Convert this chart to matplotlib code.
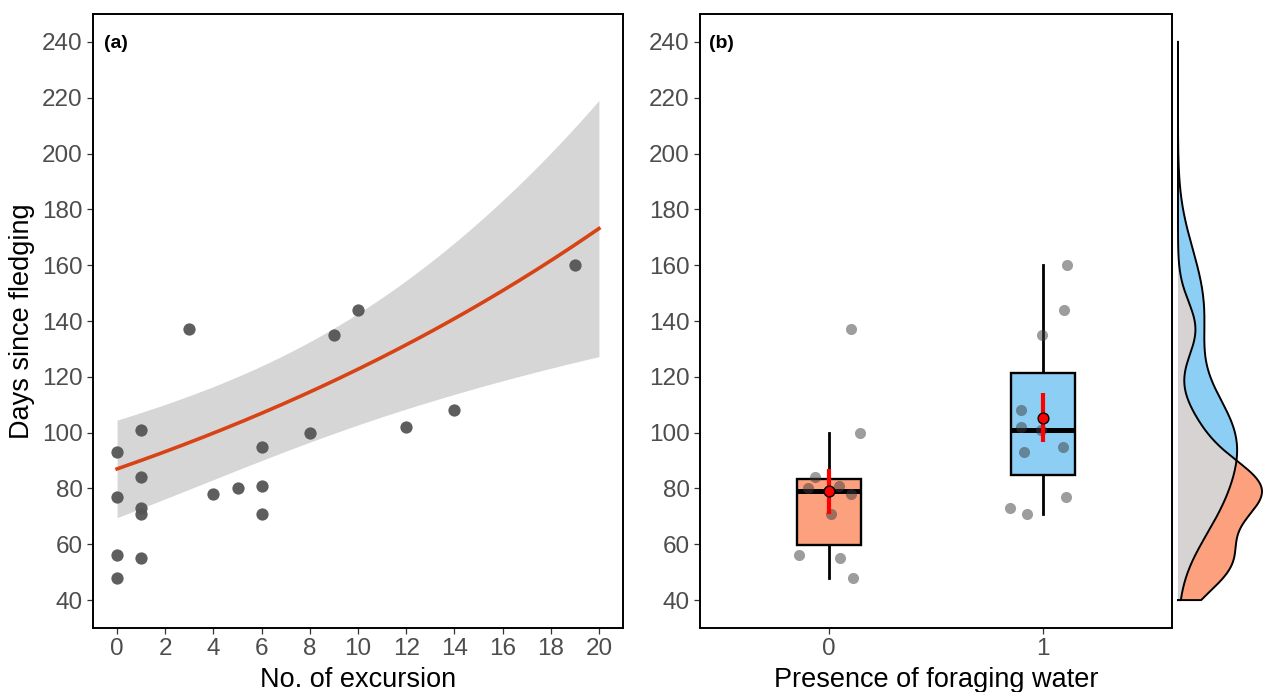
import numpy as np
import matplotlib
matplotlib.use("Agg")
import matplotlib.pyplot as plt

plt.rcParams["font.family"] = ["Liberation Sans", "DejaVu Sans"]

# panel (a): excursions vs days since fledging
excursions = [0, 0, 0, 0, 1, 1, 1, 1, 1, 3, 4, 5, 6, 6, 6, 8, 9, 10, 12, 14, 19]
days_a = [93, 77, 56, 48, 101, 84, 73, 71, 55, 137, 78, 80, 95, 81, 71, 100, 135, 144, 102, 108, 160]

# fitted log-link model (coef + vcov on link scale)
fit_coef = [4.466, 0.0344]
fit_vcov = [[0.0105, -0.000555], [-0.000555, 0.000075]]

# panel (b): days by presence of foraging water
days_water0 = [137, 100, 84, 80, 81, 78, 71, 56, 55, 48]
days_water1 = [160, 144, 135, 108, 102, 101, 93, 95, 77, 73, 71]
jitter_water0 = [0.106, 0.148, -0.065, -0.097, 0.046, 0.102, 0.009, -0.139, 0.051, 0.111]
jitter_water1 = [0.111, 0.097, -0.005, -0.102, -0.102, -0.009, -0.088, 0.093, 0.106, -0.157, -0.074]
groups = ["0", "1"]

col_fill = ["#FDA07E", "#8DCEF4"]
col_overlap = "#D8D3D3"
tick_col = "#4D4D4D"

fig = plt.figure(figsize=(12.64, 6.92), dpi=100)
W, H = 1264, 692
bot, top = 1 - 628 / H, 1 - 14 / H
ax_a = fig.add_axes([93 / W, bot, (623 - 93) / W, top - bot])
ax_b = fig.add_axes([700 / W, bot, (1172 - 700) / W, top - bot])
ax_d = fig.add_axes([1172 / W, bot, (W - 1172) / W, top - bot])

# ---- panel a
xs = np.linspace(0, 20, 200)
X = np.column_stack([np.ones_like(xs), xs])
eta = X @ np.array(fit_coef)
se_eta = np.sqrt(np.einsum("ij,jk,ik->i", X, np.array(fit_vcov), X))
mu = np.exp(eta)
half = 1.96 * mu * se_eta
ax_a.fill_between(xs, mu - half, mu + half, color="#D6D6D6", lw=0, zorder=1)
ax_a.plot(xs, mu, color="#D84315", lw=2.6, zorder=2)
ax_a.scatter(excursions, days_a, s=78, color="#555555", alpha=0.95, lw=0, zorder=3)
ax_a.set_xlim(-1, 21)
ax_a.set_xticks(range(0, 21, 2))
ax_a.set_xlabel("No. of excursion", fontsize=19.5, labelpad=5)
ax_a.set_ylabel("Days since fledging", fontsize=19.5, labelpad=5)
ax_a.text(0.02, 0.965, "(a)", transform=ax_a.transAxes, fontsize=14,
          fontweight="bold", va="top", ha="left")

# ---- panel b
for i, vals in enumerate([days_water0, days_water1]):
    v = np.array(vals, dtype=float)
    q1, med, q3 = np.percentile(v, [25, 50, 75])
    iqr = q3 - q1
    lo = v[v >= q1 - 1.5 * iqr].min()
    hi = v[v <= q3 + 1.5 * iqr].max()
    bw = 0.15
    ax_b.plot([i, i], [lo, q1], color="black", lw=2.0, zorder=1)
    ax_b.plot([i, i], [q3, hi], color="black", lw=2.0, zorder=1)
    ax_b.add_patch(plt.Rectangle((i - bw, q1), 2 * bw, q3 - q1, facecolor=col_fill[i],
                                 edgecolor="black", lw=1.7, zorder=1))
    ax_b.plot([i - bw, i + bw], [med, med], color="black", lw=3.6, zorder=1,
              solid_capstyle="butt")
    jit = [jitter_water0, jitter_water1][i]
    ax_b.scatter(i + np.array(jit), v, s=64, color="#3C3C3C", alpha=0.5, lw=0, zorder=2)
    m = v.mean()
    se = v.std(ddof=1) / np.sqrt(len(v))
    ax_b.plot([i, i], [m - se, m + se], color="#FF0000", lw=3, zorder=3,
              solid_capstyle="butt")
    ax_b.scatter([i], [m], s=60, color="#FF0000", edgecolor="black", lw=1, zorder=4)
ax_b.set_xlim(-0.6, 1.6)
ax_b.set_xticks([0, 1])
ax_b.set_xticklabels(groups)
ax_b.set_xlabel("Presence of foraging water", fontsize=19.5, labelpad=5)
ax_b.text(0.02, 0.965, "(b)", transform=ax_b.transAxes, fontsize=14,
          fontweight="bold", va="top", ha="left")

for ax in (ax_a, ax_b):
    ax.set_ylim(30, 250)
    ax.set_yticks(range(40, 241, 20))
    ax.tick_params(labelsize=17.5, colors=tick_col, length=4.5, width=0.9, pad=3)
    ax.tick_params(axis="both", color="#333333")
    for s in ax.spines.values():
        s.set_linewidth(1.4)

# ---- marginal density (right)
grid = np.linspace(40, 240, 400)
dens = []
for vals in [days_water0, days_water1]:
    v = np.array(vals, dtype=float)
    q1, q3 = np.percentile(v, [25, 75])
    h = 0.9 * min(v.std(ddof=1), (q3 - q1) / 1.34) * len(v) ** -0.2
    d = np.exp(-0.5 * ((grid[:, None] - v[None, :]) / h) ** 2).sum(1) / (len(v) * h * np.sqrt(2 * np.pi))
    dens.append(d)
d0, d1 = dens
ax_d.fill_betweenx(grid, 0, d0, color=col_fill[0], lw=0)
ax_d.fill_betweenx(grid, 0, d1, color=col_fill[1], lw=0)
ax_d.fill_betweenx(grid, 0, np.minimum(d0, d1), color=col_overlap, lw=0)
for d in (d0, d1):
    ax_d.plot(np.r_[0, d, 0], np.r_[grid[0], grid, grid[-1]], color="black", lw=1.4)
mx = max(d0.max(), d1.max())
rng = mx / 0.913
ax_d.set_xlim(-0.065 * rng, -0.065 * rng + rng)
ax_d.set_ylim(30, 250)
ax_d.axis("off")

fig.savefig("out.png", dpi=100)
